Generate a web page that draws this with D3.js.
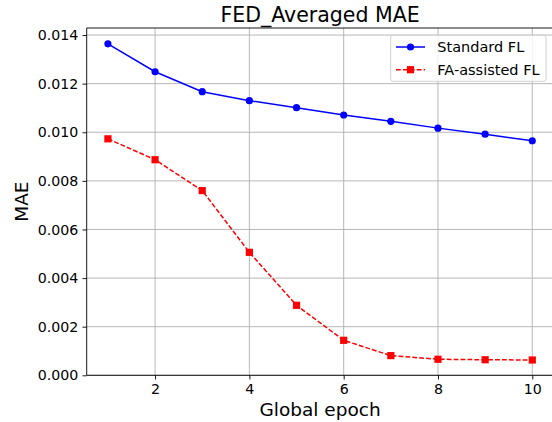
<!DOCTYPE html>
<html>
<head>
<meta charset="utf-8">
<script src="https://cdn.jsdelivr.net/npm/d3@7"></script>
<style>
  html, body { margin: 0; padding: 0; background: #ffffff; }
  svg { display: block; }
  text { font-family: "DejaVu Sans", sans-serif; fill: #000; }
</style>
</head>
<body>
<svg id="chart" width="552" height="422"></svg>
<script>
// ---- data ----
const epochs = [1, 2, 3, 4, 5, 6, 7, 8, 9, 10];
const standardFL = [0.01364, 0.01249, 0.01167, 0.01130, 0.01101, 0.01071, 0.01045, 0.01017, 0.00992, 0.00965];
const faAssistedFL = [0.00973, 0.00887, 0.00760, 0.00506, 0.00288, 0.00144, 0.00081, 0.00066, 0.00064, 0.00063];
const xTicks = [2, 4, 6, 8, 10];
const yTicks = [0, 0.002, 0.004, 0.006, 0.008, 0.010, 0.012, 0.014];
const titleText = "FED_Averaged MAE";
const xLabel = "Global epoch";
const yLabel = "MAE";
const seriesNames = ["Standard FL", "FA-assisted FL"];

(function () {
// ---- layout ----
const svg = d3.select("#chart");
const pL = 86.7, pR = 553.5, pT = 28, pB = 375.3;

const x = d3.scaleLinear().domain([0.55, 10.45]).range([pL, pR]);
const y = d3.scaleLinear().domain([0, 0.01429]).range([pB, pT]);

// grid
const grid = svg.append("g");
grid.selectAll("line.gx").data(xTicks).enter().append("line")
  .attr("x1", d => x(d)).attr("x2", d => x(d))
  .attr("y1", pT).attr("y2", pB)
  .attr("stroke", "#b0b0b0").attr("stroke-width", 0.9);
grid.selectAll("line.gy").data(yTicks).enter().append("line")
  .attr("x1", pL).attr("x2", pR)
  .attr("y1", d => y(d)).attr("y2", d => y(d))
  .attr("stroke", "#b0b0b0").attr("stroke-width", 0.9);

// axes
const xAxis = d3.axisBottom(x).tickValues(xTicks).tickFormat(d3.format("d"))
  .tickSize(4.2).tickPadding(4.2);
const yAxis = d3.axisLeft(y).tickValues(yTicks).tickFormat(d3.format(".3f"))
  .tickSize(4.2).tickPadding(4.2);

const gx = svg.append("g").attr("transform", `translate(0,${pB})`).call(xAxis);
const gy = svg.append("g").attr("transform", `translate(${pL},0)`).call(yAxis);
[gx, gy].forEach(g => {
  g.select(".domain").remove();
  g.selectAll(".tick line").attr("stroke", "#000").attr("stroke-width", 0.9);
  g.selectAll(".tick text").attr("font-family", "DejaVu Sans").attr("font-size", 14.2).attr("fill", "#000");
});

// spines
const spine = (x1, y1, x2, y2) => svg.append("line")
  .attr("x1", x1).attr("y1", y1).attr("x2", x2).attr("y2", y2)
  .attr("stroke", "#000").attr("stroke-width", 0.9);
spine(pL, pT, pL, pB);
spine(pL, pB, pR, pB);
spine(pL, pT, pR, pT);
spine(pR, pT, pR, pB);

// lines
const line = d3.line().x((d, i) => x(epochs[i])).y(d => y(d));
svg.append("path").datum(standardFL).attr("d", line)
  .attr("fill", "none").attr("stroke", "#0000ff").attr("stroke-width", 1.5);
svg.append("path").datum(faAssistedFL).attr("d", line)
  .attr("fill", "none").attr("stroke", "#ff0000").attr("stroke-width", 1.5)
  .attr("stroke-dasharray", "4.8,2.1");

svg.append("g").selectAll("circle").data(standardFL).enter().append("circle")
  .attr("cx", (d, i) => x(epochs[i])).attr("cy", d => y(d)).attr("r", 3.6)
  .attr("fill", "#0000ff");
const ms = 7.2;
svg.append("g").selectAll("rect").data(faAssistedFL).enter().append("rect")
  .attr("x", (d, i) => x(epochs[i]) - ms / 2).attr("y", d => y(d) - ms / 2)
  .attr("width", ms).attr("height", ms).attr("fill", "#ff0000");

// title and labels
svg.append("text").attr("x", (pL + pR) / 2).attr("y", 22)
  .attr("text-anchor", "middle").attr("font-size", 20.5).text(titleText);
svg.append("text").attr("x", (pL + pR) / 2).attr("y", 415.7)
  .attr("text-anchor", "middle").attr("font-size", 18.5).text(xLabel);
svg.append("text").attr("transform", `translate(27.5,${(pT + pB) / 2}) rotate(-90)`)
  .attr("text-anchor", "middle").attr("font-size", 18.5).text(yLabel);

// legend
const lg = svg.append("g");
lg.append("rect").attr("x", 390.7).attr("y", 35.3).attr("width", 155.3).attr("height", 46)
  .attr("rx", 2.5).attr("fill", "#ffffff").attr("fill-opacity", 0.8)
  .attr("stroke", "#cccccc").attr("stroke-width", 0.9);
const rows = [
  { name: seriesNames[0], color: "#0000ff", dash: null, marker: "circle", cy: 47 },
  { name: seriesNames[1], color: "#ff0000", dash: "4.8,2.1", marker: "square", cy: 69.7 }
];
rows.forEach(r => {
  lg.append("line").attr("x1", 396).attr("x2", 425).attr("y1", r.cy).attr("y2", r.cy)
    .attr("stroke", r.color).attr("stroke-width", 1.5)
    .attr("stroke-dasharray", r.dash);
  if (r.marker === "circle") {
    lg.append("circle").attr("cx", 410.5).attr("cy", r.cy).attr("r", 3.6).attr("fill", r.color);
  } else {
    lg.append("rect").attr("x", 410.5 - ms / 2).attr("y", r.cy - ms / 2)
      .attr("width", ms).attr("height", ms).attr("fill", r.color);
  }
  lg.append("text").attr("x", 437.3).attr("y", r.cy + 5.1).attr("font-size", 14.5).text(r.name);
});
})();
</script>
</body>
</html>
